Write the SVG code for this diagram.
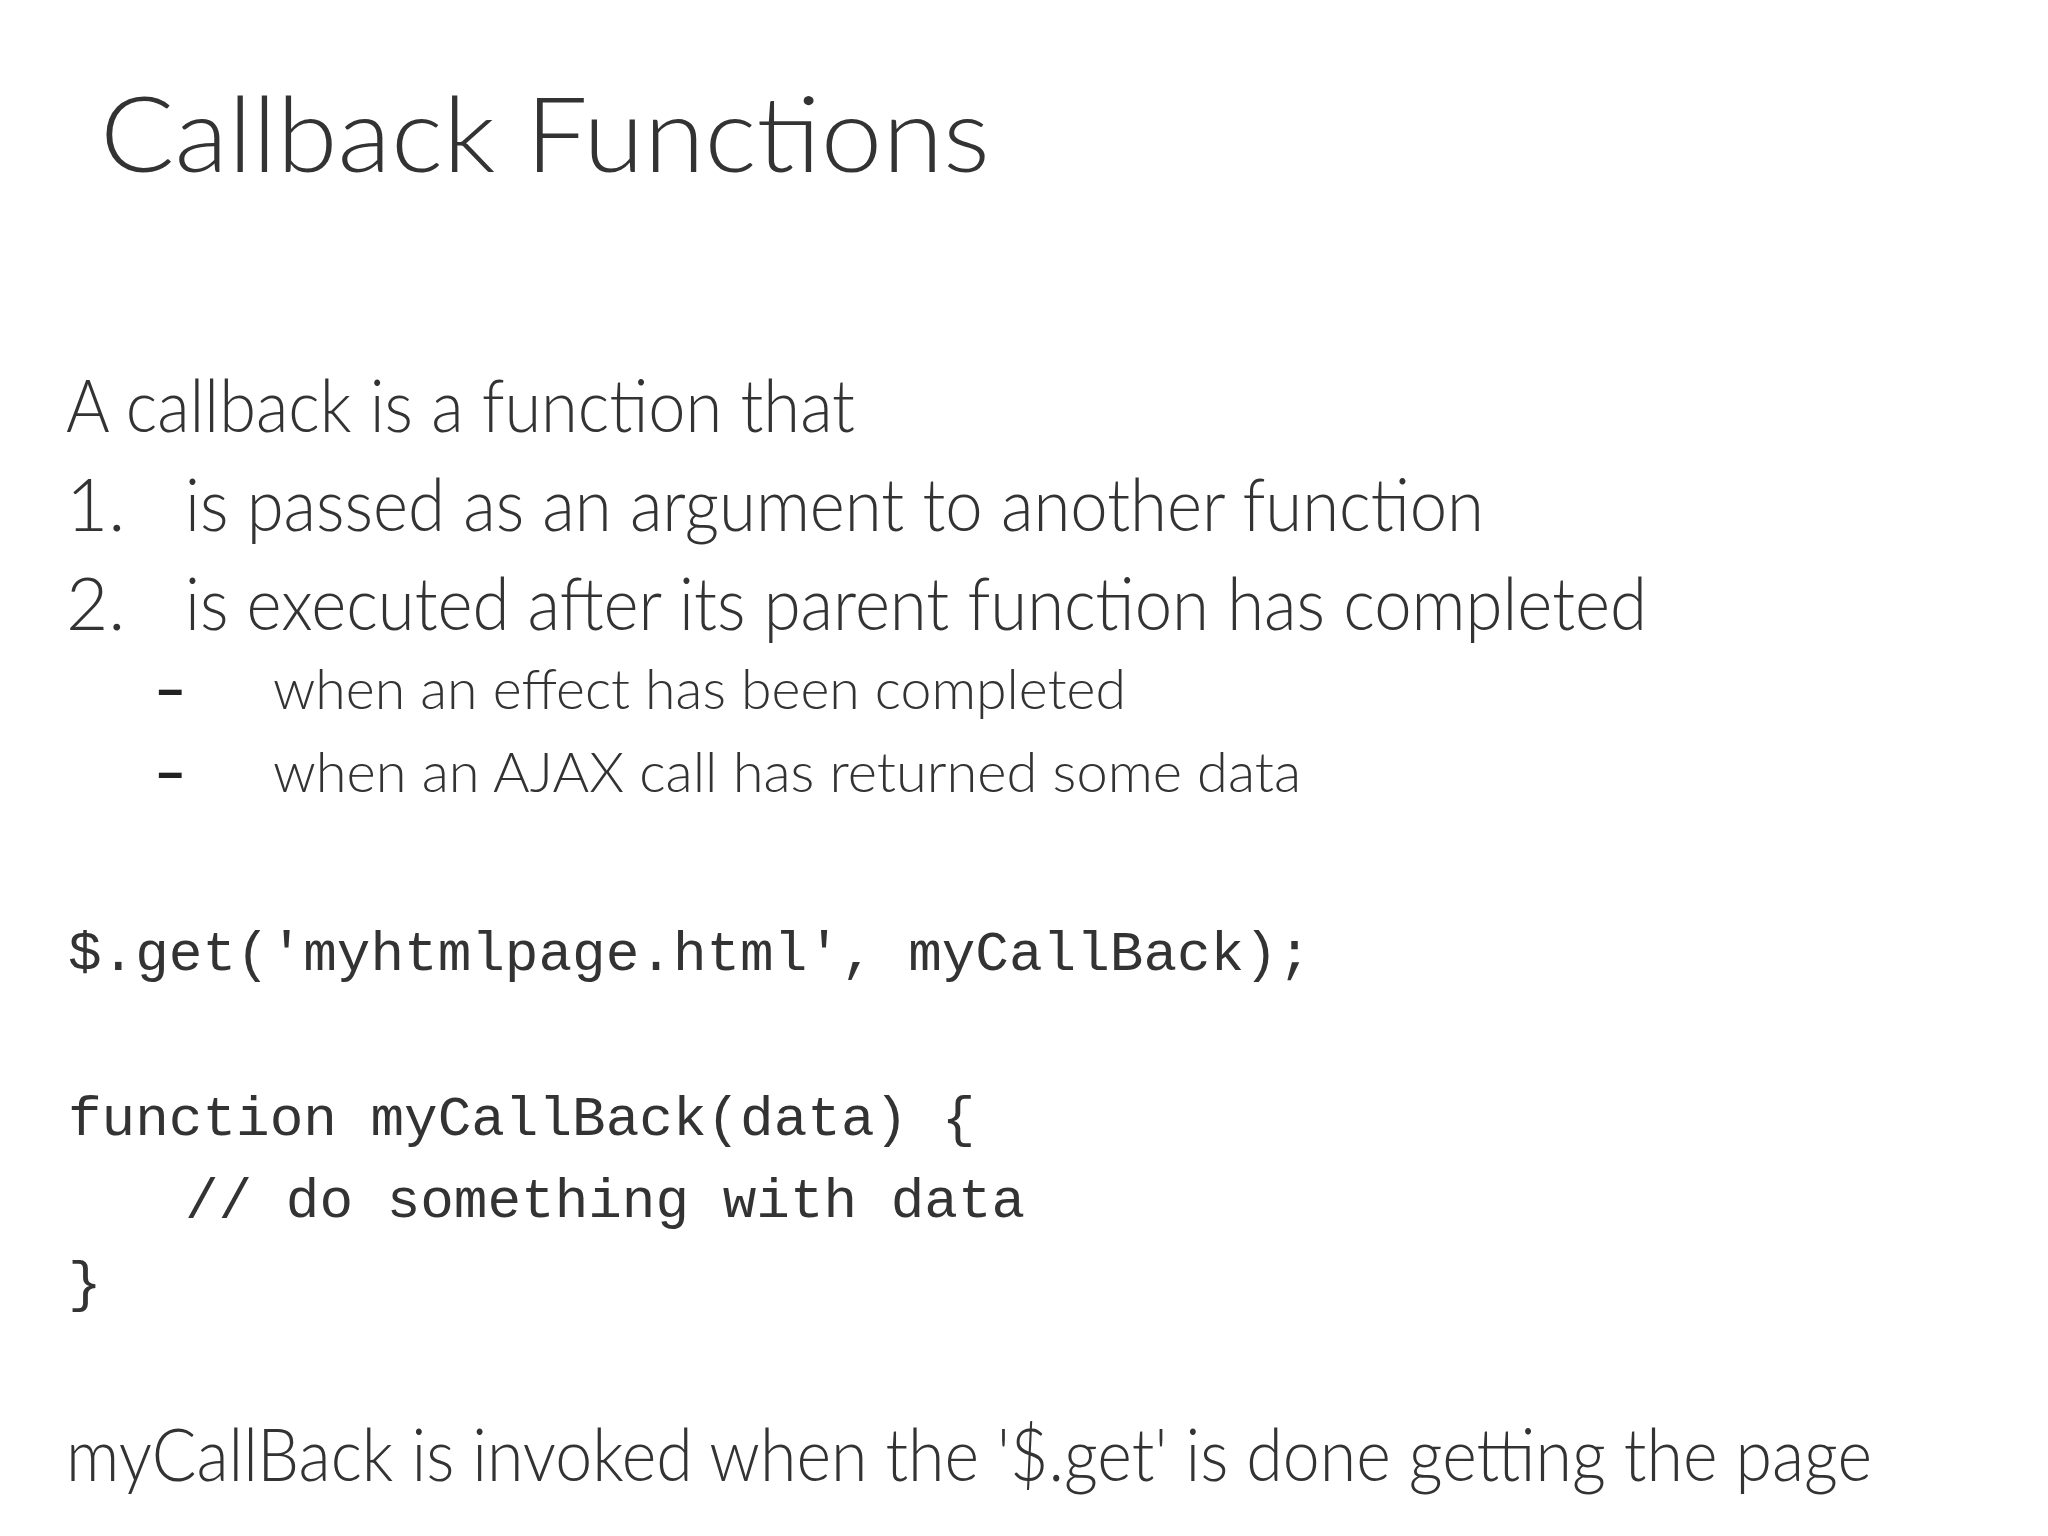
<svg xmlns="http://www.w3.org/2000/svg" width="2048" height="1536" viewBox="0 0 2048 1536">
<style>
.t{font-family:Lato,"Liberation Sans",sans-serif;font-weight:300;fill:#333}
.c{font-family:"Liberation Mono",monospace;fill:#333;font-size:56px}
</style>
<rect width="2048" height="1536" fill="#fff"/>
<g id="title"><text class="t" x="100" y="172" font-size="104" textLength="890" lengthAdjust="spacingAndGlyphs">Callback Functions</text></g>
<g id="body">
<text class="t" x="66" y="432" font-size="73" textLength="789" lengthAdjust="spacingAndGlyphs">A callback is a function that</text>
<text class="t" x="66" y="531" font-size="73">1.</text>
<text class="t" x="185" y="531" font-size="73" textLength="1299" lengthAdjust="spacingAndGlyphs">is passed as an argument to another function</text>
<text class="t" x="66" y="630" font-size="73">2.</text>
<text class="t" x="185" y="630" font-size="73" textLength="1462" lengthAdjust="spacingAndGlyphs">is executed after its parent function has completed</text>
<text x="154" y="709" font-size="56" font-family="Lato,'Liberation Sans',sans-serif" font-weight="900" fill="#222">–</text>
<text class="t" x="273" y="709" font-size="56" textLength="853" lengthAdjust="spacingAndGlyphs">when an effect  has been completed</text>
<text x="154" y="792" font-size="56" font-family="Lato,'Liberation Sans',sans-serif" font-weight="900" fill="#222">–</text>
<text class="t" x="273" y="792" font-size="56" textLength="1028" lengthAdjust="spacingAndGlyphs">when an AJAX call has returned some data</text>
</g>
<g id="code">
<text class="c" x="68" y="970">$.get('myhtmlpage.html', myCallBack);</text>
<text class="c" x="68" y="1135">function myCallBack(data) {</text>
<text class="c" x="185" y="1217">// do something with data</text>
<text class="c" x="68" y="1300">}</text>
</g>
<g id="footer"><text class="t" x="66" y="1481" font-size="73" textLength="1806" lengthAdjust="spacingAndGlyphs">myCallBack is invoked when the '$.get' is done getting the page</text></g>
</svg>
